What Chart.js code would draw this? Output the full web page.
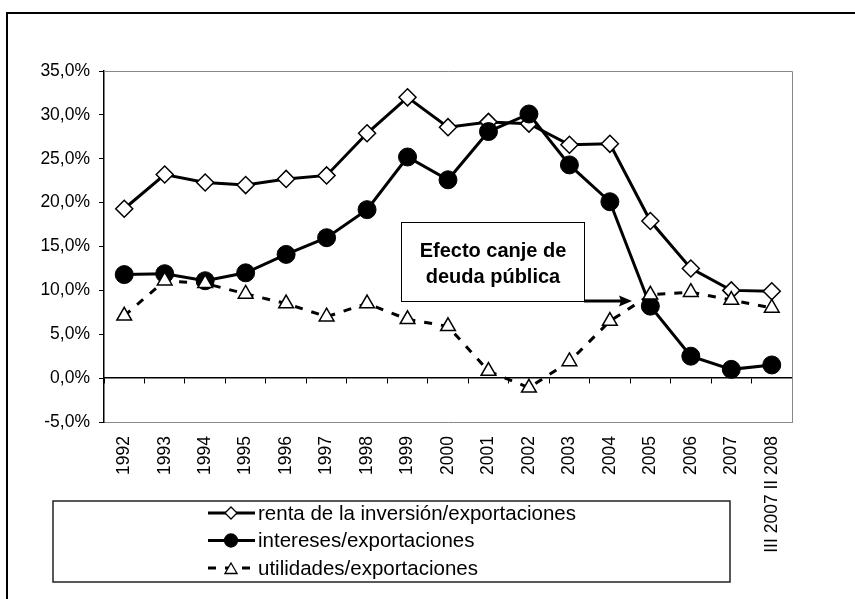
<!DOCTYPE html>
<html>
<head>
<meta charset="utf-8">
<script src="https://cdn.jsdelivr.net/npm/chart.js@4/dist/chart.umd.min.js"></script>
<style>
  html, body { margin: 0; padding: 0; background: #fff; }
  #wrap { position: relative; width: 855px; height: 599px; }
</style>
</head>
<body>
<div id="wrap"><canvas id="chart" width="855" height="599"></canvas></div>
<script>
const years = ['1992','1993','1994','1995','1996','1997','1998','1999','2000','2001','2002','2003','2004','2005','2006','2007','III 2007 II 2008'];
const renta = [19.3, 23.2, 22.3, 22.0, 22.7, 23.1, 27.9, 32.0, 28.6, 29.2, 29.0, 26.6, 26.7, 17.9, 12.5, 10.0, 9.9];
const intereses = [11.8, 11.9, 11.1, 12.0, 14.1, 16.0, 19.2, 25.2, 22.6, 28.1, 30.1, 24.3, 20.1, 8.2, 2.5, 1.0, 1.5];
const utilidades = [7.1, 11.1, 10.8, 9.6, 8.5, 7.0, 8.5, 6.7, 5.9, 0.8, -1.1, 1.9, 6.5, 9.5, 9.8, 8.9, 8.0];
const seriesNames = ['renta de la inversión/exportaciones', 'intereses/exportaciones', 'utilidades/exportaciones'];
const yMin = -5, yMax = 35, yStep = 5;
const noteLines = ['Efecto canje de', 'deuda pública'];

const FONT = "'Liberation Sans', Arial, sans-serif";

function pct(v){ return v.toFixed(1).replace('.', ',') + '%'; }

const extras = {
  id: 'extras',
  beforeDraw(chart){
    const ctx = chart.ctx;
    ctx.save();
    ctx.fillStyle = '#fff';
    ctx.fillRect(0, 0, chart.width, chart.height);
    // outer frame
    ctx.strokeStyle = '#000';
    ctx.lineWidth = 2;
    ctx.strokeRect(7, 13, 1000, 1000);
    ctx.restore();
  },
  beforeDatasetsDraw(chart){
    const ctx = chart.ctx, a = chart.chartArea;
    ctx.save();
    ctx.strokeStyle = '#888';
    ctx.lineWidth = 1;
    ctx.beginPath();
    ctx.moveTo(a.left, a.top + 0.5);
    ctx.lineTo(a.right + 0.5, a.top + 0.5);
    ctx.lineTo(a.right + 0.5, a.bottom);
    ctx.stroke();
    ctx.restore();
  },
  afterDraw(chart){
    const ctx = chart.ctx;
    ctx.save();

    // note box + arrow
    ctx.fillStyle = '#fff';
    ctx.fillRect(401, 222, 183, 79);
    ctx.strokeStyle = '#000';
    ctx.lineWidth = 1;
    ctx.strokeRect(401.5, 222.5, 183, 79);
    ctx.fillStyle = '#000';
    ctx.font = 'bold 20px ' + FONT;
    ctx.textAlign = 'center';
    ctx.textBaseline = 'alphabetic';
    ctx.fillText(noteLines[0], 493, 257);
    ctx.fillText(noteLines[1], 493, 283);

    ctx.lineWidth = 3;
    ctx.beginPath();
    ctx.moveTo(584, 301);
    ctx.lineTo(622, 301);
    ctx.stroke();
    ctx.beginPath();
    ctx.moveTo(632, 301);
    ctx.lineTo(619, 295.5);
    ctx.lineTo(621, 301);
    ctx.lineTo(619, 306.5);
    ctx.closePath();
    ctx.fill();

    // legend
    ctx.fillStyle = '#fff';
    ctx.fillRect(53, 501, 677, 81);
    ctx.strokeStyle = '#222';
    ctx.lineWidth = 1.5;
    ctx.strokeRect(53, 501, 677, 81);
    const radii = [6, 6.5, 7];
    chart.data.datasets.forEach((ds, i) => {
      const y = 513 + i * 27.5;
      ctx.strokeStyle = '#000';
      ctx.lineWidth = 3;
      ctx.setLineDash(ds.borderDash || []);
      ctx.beginPath();
      ctx.moveTo(208, y);
      ctx.lineTo(255, y);
      ctx.stroke();
      ctx.setLineDash([]);
      ctx.fillStyle = ds.pointBackgroundColor;
      ctx.strokeStyle = '#000';
      ctx.lineWidth = 1.3;
      Chart.helpers.drawPoint(ctx, { pointStyle: ds.pointStyle, rotation: 0, radius: radii[i], borderWidth: 1.3 }, 231, i === 2 ? y + 2 : y);
      ctx.fillStyle = '#000';
      ctx.font = '20.5px ' + FONT;
      ctx.textAlign = 'left';
      ctx.textBaseline = 'middle';
      ctx.fillText(ds.label, 258, y + 1);
    });
    ctx.restore();
  }
};

new Chart(document.getElementById('chart'), {
  type: 'line',
  data: {
    labels: years,
    datasets: [
      { label: seriesNames[0], data: renta, borderColor: '#000', borderWidth: 3, tension: 0,
        pointStyle: 'rectRot', pointRadius: 8.5, pointBackgroundColor: '#fff', pointBorderColor: '#000', pointBorderWidth: 1.5, order: 3 },
      { label: seriesNames[1], data: intereses, borderColor: '#000', borderWidth: 3, tension: 0,
        pointStyle: 'circle', pointRadius: 9, pointBackgroundColor: '#000', pointBorderColor: '#000', pointBorderWidth: 1, order: 2 },
      { label: seriesNames[2], data: utilidades, borderColor: '#000', borderWidth: 3, borderDash: [8, 9], tension: 0,
        pointStyle: 'triangle', pointRadius: 8.5, pointBackgroundColor: '#fff', pointBorderColor: '#000', pointBorderWidth: 1.5, order: 1 }
    ]
  },
  options: {
    responsive: false,
    animation: false,
    devicePixelRatio: 1,
    layout: { padding: { top: 71, right: 63, left: 0, bottom: 0 } },
    plugins: { legend: { display: false }, tooltip: { enabled: false } },
    scales: {
      x: {
        type: 'category',
        position: 'bottom',
        offset: true,
        grid: { display: false, drawTicks: false },
        border: { display: true, color: '#888', width: 1 },
        ticks: { autoSkip: false, minRotation: 90, maxRotation: 90, padding: 14, color: '#000', font: { family: FONT, size: 17.5 } },
        afterFit(s){ s.height = 177; }
      },
      x0: {
        type: 'category',
        position: { y: 0 },
        offset: true,
        grid: { offset: true, drawOnChartArea: false, drawTicks: true, tickLength: 5, color: '#000', lineWidth: 1 },
        border: { display: true, color: '#000', width: 1.5 },
        ticks: { display: false }
      },
      y: {
        type: 'linear',
        min: yMin,
        max: yMax,
        grid: { drawOnChartArea: false, drawTicks: true, tickLength: 5, color: '#000' },
        border: { display: true, color: '#000', width: 1.5 },
        ticks: { stepSize: yStep, padding: 9, color: '#000', font: { family: FONT, size: 17.5 }, callback: v => pct(v) },
        afterFit(s){ s.width = 104; }
      }
    }
  },
  plugins: [extras]
});
</script>
</body>
</html>
